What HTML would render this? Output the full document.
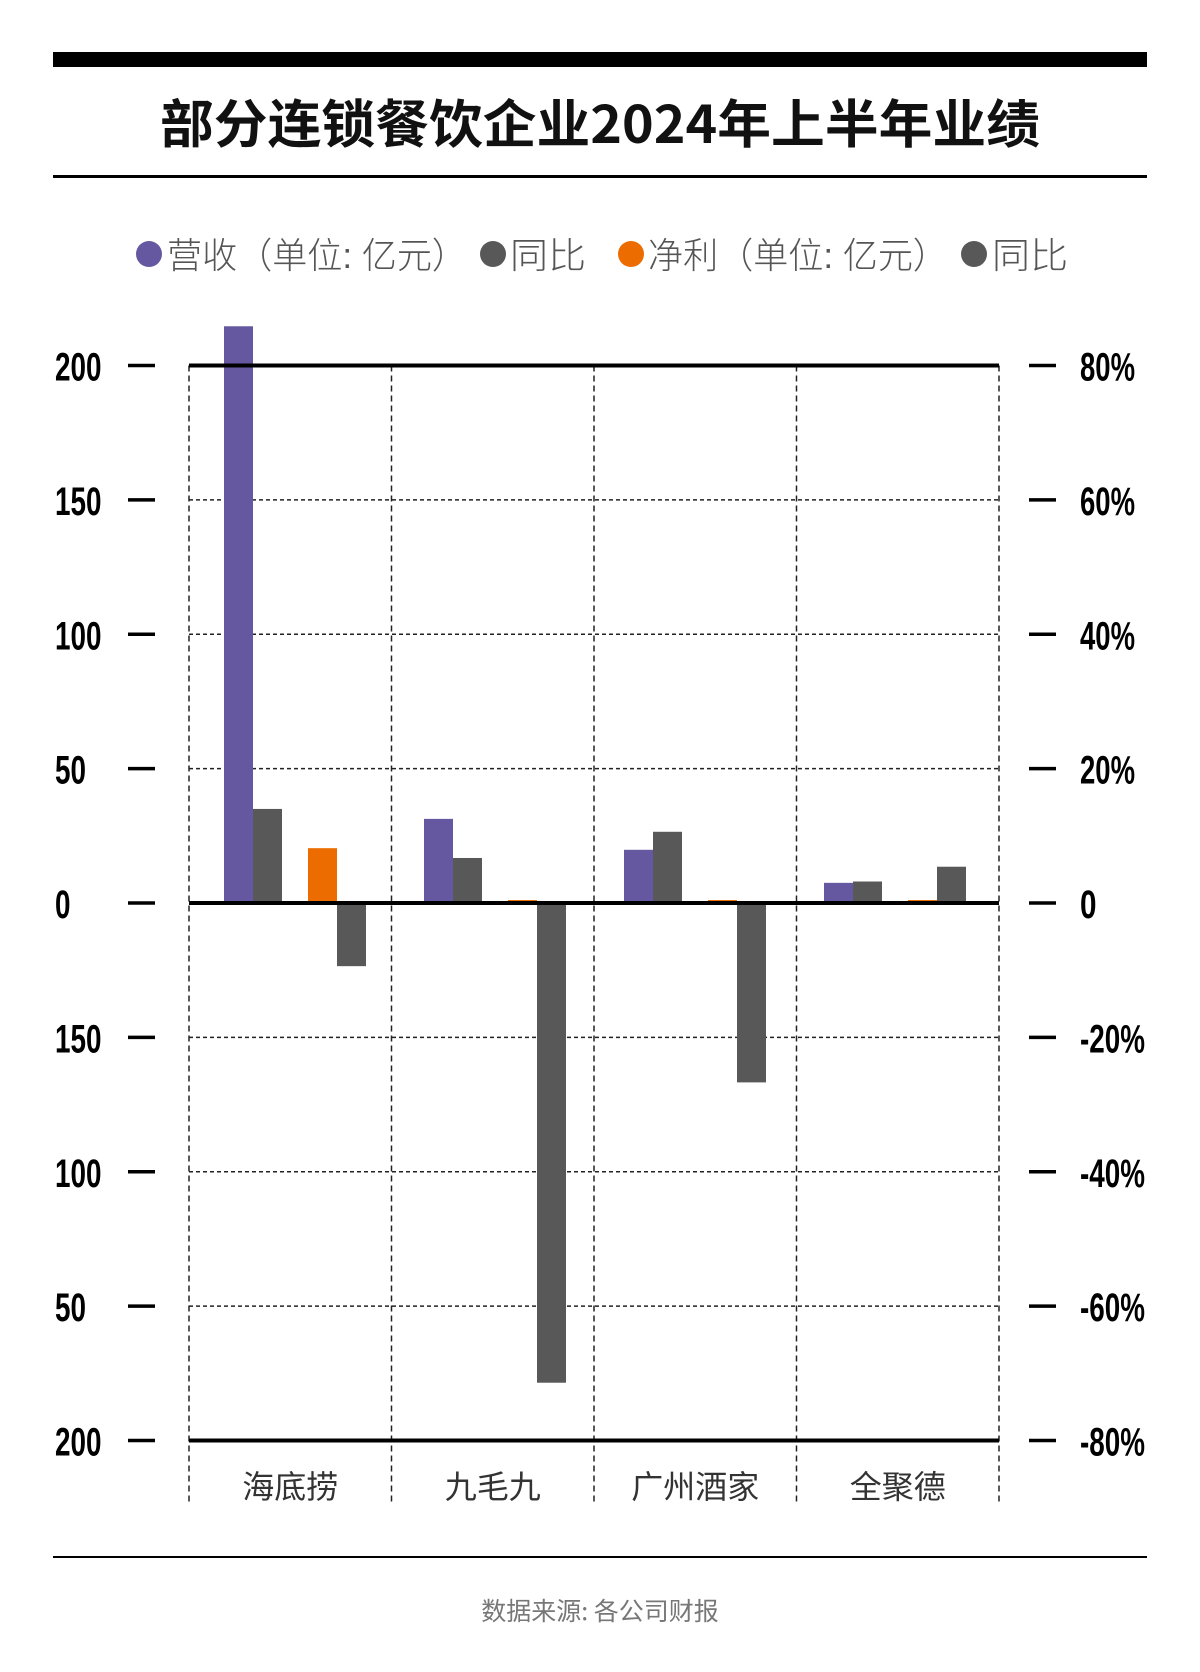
<!DOCTYPE html>
<html><head><meta charset="utf-8"><style>
html,body{margin:0;padding:0;background:#fff;}
svg{display:block;}
text{font-family:"Liberation Sans","Noto Sans CJK SC",sans-serif;}
.cn{font-family:"Noto Sans CJK SC","WenQuanYi Zen Hei",sans-serif;}
</style></head><body>
<svg id="chart" width="1200" height="1672" viewBox="0 0 1200 1672" xmlns="http://www.w3.org/2000/svg">
<rect x="53" y="52" width="1094" height="15" fill="#000"/>
<text class="cn" x="600" y="143" text-anchor="middle" font-size="52" font-weight="bold" fill="#111" textLength="880" lengthAdjust="spacingAndGlyphs">部分连锁餐饮企业2024年上半年业绩</text>
<rect x="53" y="175" width="1094" height="3" fill="#000"/>
<g class="cn" font-size="36" fill="#555" font-weight="300">
<circle cx="149" cy="254" r="13" fill="#6558a0"/>
<text x="167" y="268" textLength="300" lengthAdjust="spacingAndGlyphs">营收（单位: 亿元）</text>
<circle cx="493" cy="254" r="13" fill="#585858"/>
<text x="510" y="268" textLength="76" lengthAdjust="spacingAndGlyphs">同比</text>
<circle cx="631" cy="254" r="13" fill="#ec6c00"/>
<text x="648" y="268" textLength="300" lengthAdjust="spacingAndGlyphs">净利（单位: 亿元）</text>
<circle cx="974" cy="254" r="13" fill="#585858"/>
<text x="992" y="268" textLength="76" lengthAdjust="spacingAndGlyphs">同比</text>
</g>
<g id="grid"></g>
<g id="bars"></g>
<g id="axes"></g>
<rect x="53" y="1556" width="1094" height="2" fill="#000"/>
<text class="cn" x="600" y="1620" text-anchor="middle" font-size="25" fill="#777">数据来源: 各公司财报</text>
</svg>
<script>
const categories = ["海底捞", "九毛九", "广州酒家", "全聚德"];
const revenue = [214.6, 31.3, 19.8, 7.5];
const revenueYoy = [14.0, 6.7, 10.6, 3.2];
const profit = [20.4, 0.6, 0.6, 0.3];
const profitYoy = [-9.4, -71.4, -26.7, 5.4];
const leftTicks = [200, 150, 100, 50, 0, -50, -100, -150, -200];
const leftTickLabels = ["200", "150", "100", "50", "0", "150", "100", "50", "200"];
const rightTickLabels = ["80%", "60%", "40%", "20%", "0", "-20%", "-40%", "-60%", "-80%"];

const NS = "http://www.w3.org/2000/svg";
const X0 = 189, X1 = 999, Y0 = 903, UNIT = 537.5 / 200;
const groupW = (X1 - X0) / categories.length;
const clusterStart = 224, clusterPitch = 200;
const barW = 29;
const y = v => Y0 - v * UNIT;
const yPct = p => Y0 - (p / 0.4) * UNIT;
function mk(tag, attrs, parent) { const e = document.createElementNS(NS, tag); for (const k in attrs) e.setAttribute(k, attrs[k]); parent.appendChild(e); return e; }
const grid = document.getElementById('grid'), bars = document.getElementById('bars'), axes = document.getElementById('axes');
const labW = s => s.split('').reduce((a, ch) => a + (ch === '-' ? 10 : (ch === '%' ? 22 : 16.5)), 0);

leftTicks.forEach((t, i) => {
  const yy = y(t);
  if (t === 200 || t === 0 || t === -200) {
    const l = mk('line', {x1: X0, x2: X1, y1: yy, y2: yy, stroke: '#000', 'stroke-width': 4}, axes);
    
    
  } else {
    const l = mk('line', {x1: X0, x2: X1, y1: yy, y2: yy, stroke: '#222', 'stroke-width': 1.5, 'stroke-dasharray': '4 3'}, grid);
    
    
  }
  const tl = mk('line', {x1: 128, x2: 155, y1: yy, y2: yy, stroke: '#000', 'stroke-width': 3.5}, axes);
  
  
  const tr = mk('line', {x1: 1029, x2: 1056, y1: yy, y2: yy, stroke: '#000', 'stroke-width': 3.5}, axes);
  
  
  const lab = leftTickLabels[i];
  const lt = mk('text', {x: 55, y: yy + 15, 'font-size': 40, 'font-weight': 'bold', fill: '#000', textLength: lab.length * 15.5, lengthAdjust: 'spacingAndGlyphs'}, axes);
  lt.textContent = lab;
  
  
  const rl = rightTickLabels[i];
  const rt = mk('text', {x: 1080, y: yy + 15, 'font-size': 40, 'font-weight': 'bold', fill: '#000', textLength: labW(rl), lengthAdjust: 'spacingAndGlyphs'}, axes);
  rt.textContent = rl;
  
  
});
for (let i = 0; i <= categories.length; i++) {
  const xx = X0 + i * groupW;
  const l = mk('line', {x1: xx, x2: xx, y1: y(200), y2: 1502, stroke: '#222', 'stroke-width': 1.5, 'stroke-dasharray': '6 4'}, grid);
  
  
}
const series = [[revenue, '#6558a0', 0, false, 'revenue'], [revenueYoy, '#585858', 29, true, 'revenue-yoy'], [profit, '#ec6c00', 84, false, 'profit'], [profitYoy, '#585858', 113, true, 'profit-yoy']];
categories.forEach((c, i) => {
  const cx = clusterStart + i * clusterPitch;
  series.forEach(([arr, col, off, pct, nm]) => {
    const v = arr[i];
    const yy = pct ? yPct(v) : y(v);
    const h = Math.max(Math.abs(Y0 - yy), 3);
    const top = v >= 0 ? Y0 - h : Y0;
    const r = mk('rect', {x: cx + off, y: top, width: barW, height: h, fill: col}, bars);
    
    
  });
  const gx = X0 + i * groupW;
  const t = mk('text', {x: gx + groupW / 2, y: 1498, 'text-anchor': 'middle', 'font-size': 32, fill: '#333', class: 'cn'}, axes);
  t.textContent = c;
  
  
});
</script>
</body></html>
